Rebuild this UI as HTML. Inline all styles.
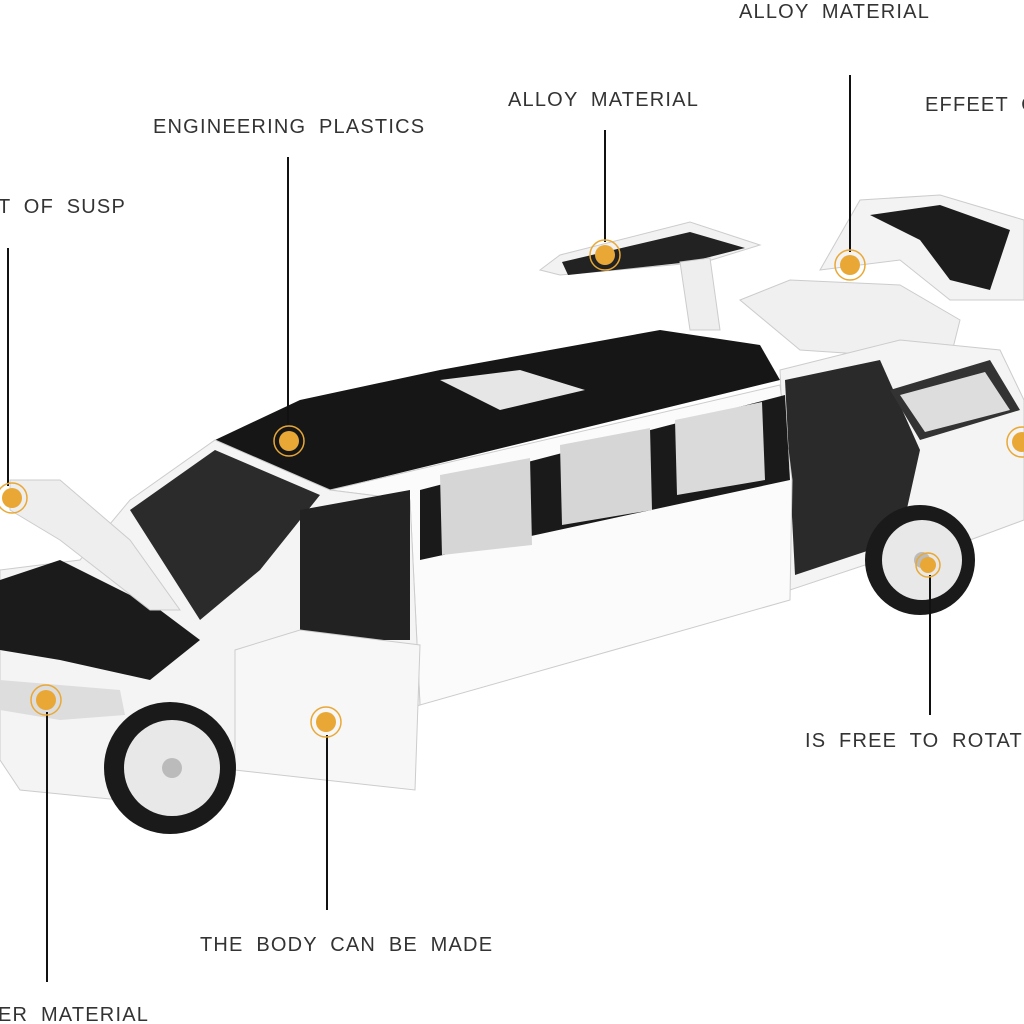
<!DOCTYPE html>
<html><head><meta charset="utf-8"><style>
html,body{margin:0;padding:0;background:#fff;width:1024px;height:1024px;overflow:hidden}
svg text{font-family:"Liberation Sans",sans-serif;font-size:20px;fill:#333;letter-spacing:1.2px;word-spacing:6px}
</style></head><body>
<svg width="1024" height="1024" viewBox="0 0 1024 1024">
<!-- rear gull doors -->
<polygon points="540,270 560,255 690,222 760,245 705,262 560,275" fill="#f2f2f2" stroke="#ccc"/>
<polygon points="562,262 690,232 745,248 690,262 568,275" fill="#222"/>
<polygon points="680,262 710,258 720,330 690,330" fill="#eee" stroke="#ccc"/>
<polygon points="820,270 860,200 940,195 1024,220 1024,300 950,300 900,260" fill="#f3f3f3" stroke="#ccc"/>
<polygon points="870,215 940,205 1010,230 990,290 950,280 920,240" fill="#1c1c1c"/>
<polygon points="740,300 790,280 900,285 960,320 950,360 800,350" fill="#f0f0f0" stroke="#ccc"/>
<!-- rear section -->
<polygon points="780,370 900,340 1000,350 1024,400 1024,520 970,540 880,560 790,590" fill="#f4f4f4" stroke="#ccc"/>
<polygon points="785,380 880,360 920,450 900,540 795,575" fill="#2a2a2a"/>
<polygon points="890,390 990,360 1020,410 920,440" fill="#333"/>
<polygon points="900,395 985,372 1010,410 925,432" fill="#ddd"/>
<!-- roof -->
<polygon points="215,440 300,400 440,370 660,330 760,345 780,380 330,490" fill="#161616"/>
<polygon points="440,380 520,370 585,390 500,410" fill="#e6e6e6"/>
<!-- body middle -->
<polygon points="330,490 780,385 792,480 790,600 420,705 410,500" fill="#fbfbfb" stroke="#ccc"/>
<polygon points="420,490 785,395 790,480 420,560" fill="#1a1a1a"/>
<polygon points="440,475 530,458 532,545 442,555" fill="#d6d6d6"/>
<polygon points="560,445 650,428 652,510 562,525" fill="#d6d6d6"/>
<polygon points="675,420 762,402 765,480 677,495" fill="#dadada"/>
<!-- front section -->
<polygon points="130,500 215,440 330,490 410,500 420,705 240,760 120,800 20,790 0,760 0,570 80,560" fill="#f4f4f4" stroke="#ccc"/>
<polygon points="130,510 215,450 320,495 260,570 200,620" fill="#2b2b2b"/>
<polygon points="300,510 410,490 410,640 300,640" fill="#222"/>
<polygon points="0,580 60,560 160,610 200,640 150,680 60,660 0,650" fill="#1b1b1b"/>
<polygon points="10,480 60,480 130,540 180,610 150,610 60,540 10,510" fill="#eee" stroke="#ccc"/>
<polygon points="235,650 300,630 420,645 415,790 235,770" fill="#f7f7f7" stroke="#ccc"/>
<polygon points="0,680 120,690 125,715 60,720 0,710" fill="#ddd"/>
<!-- wheels -->
<circle cx="170" cy="768" r="66" fill="#1a1a1a"/><circle cx="172" cy="768" r="48" fill="#e8e8e8"/><circle cx="172" cy="768" r="10" fill="#bbb"/>
<circle cx="920" cy="560" r="55" fill="#1a1a1a"/><circle cx="922" cy="560" r="40" fill="#e8e8e8"/><circle cx="922" cy="560" r="8" fill="#bbb"/>
<!-- leader lines -->
<g stroke="#111" stroke-width="2">
<line x1="850" y1="75" x2="850" y2="252"/>
<line x1="605" y1="130" x2="605" y2="242"/>
<line x1="288" y1="157" x2="288" y2="428"/>
<line x1="8" y1="248" x2="8" y2="486"/>
<line x1="930" y1="575" x2="930" y2="715"/>
<line x1="327" y1="735" x2="327" y2="910"/>
<line x1="47" y1="712" x2="47" y2="982"/>
</g>
<!-- dots -->
<g fill="#E9A835" stroke="#E9A835">
<g><circle cx="850" cy="265" r="10" stroke="none"/><circle cx="850" cy="265" r="15" fill="none" stroke-width="1.5"/></g>
<g><circle cx="605" cy="255" r="10" stroke="none"/><circle cx="605" cy="255" r="15" fill="none" stroke-width="1.5"/></g>
<g><circle cx="289" cy="441" r="10" stroke="none"/><circle cx="289" cy="441" r="15" fill="none" stroke-width="1.5"/></g>
<g><circle cx="12" cy="498" r="10" stroke="none"/><circle cx="12" cy="498" r="15" fill="none" stroke-width="1.5"/></g>
<g><circle cx="928" cy="565" r="8" stroke="none"/><circle cx="928" cy="565" r="12" fill="none" stroke-width="1.5"/></g>
<g><circle cx="326" cy="722" r="10" stroke="none"/><circle cx="326" cy="722" r="15" fill="none" stroke-width="1.5"/></g>
<g><circle cx="46" cy="700" r="10" stroke="none"/><circle cx="46" cy="700" r="15" fill="none" stroke-width="1.5"/></g>
<g><circle cx="1022" cy="442" r="10" stroke="none"/><circle cx="1022" cy="442" r="15" fill="none" stroke-width="1.5"/></g>
</g>
<!-- labels -->
<text x="739" y="18">ALLOY MATERIAL</text>
<text x="925" y="111">EFFEET O</text>
<text x="508" y="106">ALLOY MATERIAL</text>
<text x="153" y="133">ENGINEERING PLASTICS</text>
<text x="-2" y="213">T OF SUSP</text>
<text x="805" y="747">IS FREE TO ROTAT</text>
<text x="200" y="951">THE BODY CAN BE MADE</text>
<text x="-2" y="1021">ER MATERIAL</text>
</svg>
</body></html>
